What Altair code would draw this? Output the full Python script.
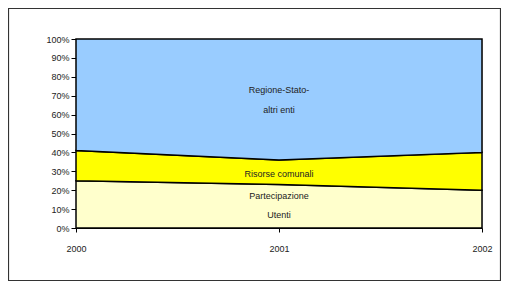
import altair as alt
import pandas as pd

years = [2000, 2001, 2002]
series = ["Partecipazione Utenti", "Risorse comunali", "Regione-Stato-altri enti"]
utenti = [25, 23, 20]
comunali = [16, 13, 20]
regione = [59, 64, 60]
colors = ["#FFFFCC", "#FFFF00", "#99CCFF"]

rows = []
for i, y in enumerate(years):
    for k, (s, vals) in enumerate(zip(series, [utenti, comunali, regione])):
        rows.append({"year": y, "series": s, "value": vals[i], "order": k})
df = pd.DataFrame(rows)

label_text = ["Regione-Stato-", "altri enti", "Risorse comunali", "Partecipazione", "Utenti"]
label_year = [2001, 2001, 2001, 2001, 2001]
label_pos = [73, 62.5, 28.5, 17, 7]
labels = pd.DataFrame({"text": label_text, "year": label_year, "value": label_pos})

W, H = 406, 189
PL, PT, PR, PB = 68, 31, 19, 53

x_axis = alt.Axis(values=[float(v) for v in years], labelExpr="format(datum.value, 'd')",
                  title=None, grid=False,
                  tickSize=4, tickColor="black", domainColor="black",
                  labelPadding=12, labelFontSize=9, labelColor="#222",
                  labelFont="Liberation Sans", labelFlush=False,
                  labelOverlap=False, labelBound=False)
y_axis = alt.Axis(values=list(range(0, 101, 10)), labelExpr="datum.value + '%'",
                  title=None, grid=False, tickSize=5, tickColor="black",
                  domainColor="black", labelFontSize=9, labelColor="#222",
                  labelFont="Liberation Sans", labelPadding=2,
                  labelOverlap=False, labelFlush=False)
x_scale = alt.Scale(domain=[2000, 2002], nice=False, zero=False)
y_scale = alt.Scale(domain=[0, 100], nice=False)

area = alt.Chart(df).mark_area(stroke="black", strokeWidth=1.5, opacity=1).encode(
    x=alt.X("year:Q", scale=x_scale, axis=x_axis),
    y=alt.Y("value:Q", stack="zero", scale=y_scale, axis=y_axis),
    color=alt.Color("series:N", scale=alt.Scale(domain=series, range=colors), legend=None),
    order=alt.Order("order:Q"),
)

text = alt.Chart(labels).mark_text(font="Liberation Sans", fontSize=9, color="#222").encode(
    x=alt.X("year:Q", scale=x_scale, axis=x_axis),
    y=alt.Y("value:Q", stack=None, scale=y_scale, axis=y_axis),
    text="text:N")

border = alt.Chart(pd.DataFrame({"a": [0]})).mark_rect(
    fill=None, stroke="#333", strokeWidth=1.2).encode(
    x=alt.value(-PL + 0.5), x2=alt.value(W + PR - 0.5),
    y=alt.value(-PT + 0.5), y2=alt.value(H + PB - 0.5))

chart = alt.layer(area, text, border).properties(
    width=W, height=H,
    autosize=alt.AutoSizeParams(type="none"),
    padding={"left": PL, "top": PT, "right": PR, "bottom": PB},
).configure_view(stroke="black", strokeWidth=1.5).configure_axis(
    domainWidth=1, tickWidth=1).configure(background="white")

chart.save("out.html", embed_options={"renderer": "svg", "actions": False})
